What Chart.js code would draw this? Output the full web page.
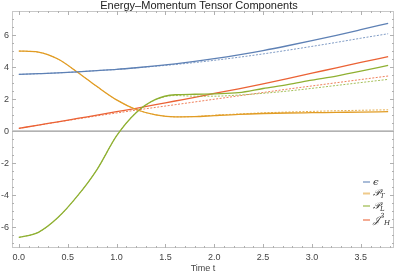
<!DOCTYPE html>
<html><head><meta charset="utf-8">
<script src="https://cdn.jsdelivr.net/npm/chart.js@4/dist/chart.umd.min.js"></script>
<style>html,body{margin:0;padding:0;background:#fff}canvas{display:block}</style>
</head><body>
<canvas id="c" width="395" height="274"></canvas>
<script>
const times = [0,0.2,0.4,0.6,0.8,1.0,1.2,1.4,1.6,1.8,2.0,2.25,2.5,2.75,3.0,3.25,3.5,3.78];
const epsSolid = [3.54,3.585,3.635,3.70,3.78,3.855,3.955,4.07,4.20,4.35,4.52,4.76,5.03,5.33,5.65,5.98,6.33,6.73];
const epsDashed = [3.54,3.585,3.635,3.70,3.78,3.85,3.95,4.05,4.16,4.28,4.42,4.61,4.82,5.05,5.29,5.54,5.80,6.08];
const pTSolid = [5.0,4.93,4.5,3.68,2.78,1.95,1.35,1.02,0.89,0.90,0.97,1.05,1.10,1.13,1.15,1.17,1.19,1.21];
const pTDashed = [5.0,4.93,4.5,3.68,2.78,1.95,1.35,1.02,0.89,0.91,0.99,1.07,1.14,1.19,1.23,1.27,1.30,1.33];
const pLSolid = [-6.64,-6.32,-5.4,-4.05,-2.4,-0.3,1.15,1.98,2.27,2.30,2.33,2.40,2.66,2.90,3.18,3.44,3.74,4.10];
const pLDashed = [-6.64,-6.32,-5.4,-4.05,-2.4,-0.3,1.15,1.96,2.22,2.18,2.18,2.25,2.36,2.50,2.67,2.85,3.03,3.23];
const jSolid = [0.17,0.38,0.58,0.79,1.0,1.21,1.42,1.65,1.88,2.11,2.35,2.64,2.95,3.28,3.62,3.95,4.29,4.65];
const jDashed = [0.17,0.37,0.57,0.76,0.95,1.13,1.31,1.48,1.65,1.82,1.99,2.20,2.41,2.62,2.82,3.02,3.22,3.44];
const xTicks = [0,0.5,1.0,1.5,2.0,2.5,3.0,3.5];
const yTicks = [-6,-4,-2,0,2,4,6];
const seriesNames = ['ϵ','𝒫','𝒫','𝒥'];

const COLORS = ['#5E81B5','#E19C24','#8FB032','#EB6235'];
const pts = arr => arr.map((v,i)=>({x:times[i],y:v}));
function ds(data,color,dashed){
  return {data:pts(data),borderColor:dashed?color+'CC':color,borderWidth:dashed?1:1.3,
    borderDash:dashed?[2,1.5]:[],pointRadius:0,fill:false,cubicInterpolationMode:'monotone'};
}
const datasets = [
  ds(epsDashed,COLORS[0],true), ds(pTDashed,COLORS[1],true), ds(pLDashed,COLORS[2],true), ds(jDashed,COLORS[3],true),
  ds(epsSolid,COLORS[0],false), ds(pTSolid,COLORS[1],false), ds(pLSolid,COLORS[2],false), ds(jSolid,COLORS[3],false)
];

const framePlugin = {
  id:'frame',
  beforeDatasetsDraw(chart){
    const {ctx,chartArea:a,scales:{y}} = chart;
    const y0 = y.getPixelForValue(0);
    ctx.save();
    ctx.strokeStyle='#999'; ctx.lineWidth=1.3;
    ctx.beginPath(); ctx.moveTo(a.left,y0); ctx.lineTo(a.right,y0); ctx.stroke();
    ctx.restore();
  },
  afterDraw(chart){
    const {ctx,chartArea:a,scales:{x,y}} = chart;
    ctx.save();
    ctx.strokeStyle='#c8c8c8'; ctx.lineWidth=1;
    ctx.strokeRect(a.left+0.5,a.top+0.5,a.right-a.left-1,a.bottom-a.top-1);
    ctx.strokeStyle='#b0b0b0';
    for(let i=0;i<=38;i++){
      const v=i/10; const px=Math.round(x.getPixelForValue(v))+0.5;
      const len = (i%5===0)?4:2;
      ctx.beginPath(); ctx.moveTo(px,a.bottom); ctx.lineTo(px,a.bottom-len);
      ctx.moveTo(px,a.top); ctx.lineTo(px,a.top+len); ctx.stroke();
    }
    for(let v=-7;v<=7.01;v+=0.5){
      const py=Math.round(y.getPixelForValue(v))+0.5;
      const len = (Math.abs(v%2)<1e-6)?4:2;
      ctx.beginPath(); ctx.moveTo(a.left,py); ctx.lineTo(a.left+len,py);
      ctx.moveTo(a.right,py); ctx.lineTo(a.right-len,py); ctx.stroke();
    }
    ctx.fillStyle='#222'; ctx.font='11px "Liberation Sans", Arial, sans-serif';
    ctx.textAlign='center'; ctx.textBaseline='middle';
    ctx.fillText('Energy–Momentum Tensor Components',199,6);
    const lx=363, ys=[182,193.5,206,220];
    const subs=['','T','L','H'];
    ctx.textAlign='left'; ctx.textBaseline='middle';
    for(let i=0;i<4;i++){
      ctx.strokeStyle=COLORS[i]+'88'; ctx.lineWidth=2; ctx.setLineDash([]);
      ctx.beginPath(); ctx.moveTo(lx,ys[i]); ctx.lineTo(lx+7,ys[i]); ctx.stroke();
      ctx.fillStyle='#333';
      ctx.font='italic 10px "DejaVu Serif", serif';
      ctx.fillText(seriesNames[i],lx+10,ys[i]);
      const w=ctx.measureText(seriesNames[i]).width;
      if(i===3){
        ctx.font='italic 7px "DejaVu Serif", serif';
        ctx.fillText('3',lx+10+w,ys[i]-4);
        ctx.fillText('H',lx+10+w+4,ys[i]+3);
      } else if(subs[i]){
        ctx.font='italic 7px "DejaVu Serif", serif';
        ctx.fillText(subs[i],lx+10+w,ys[i]+3);
      }
    }
    ctx.restore();
  }
};

new Chart(document.getElementById('c'),{
  type:'line',
  data:{datasets},
  options:{
    responsive:false, animation:false,
    layout:{padding:{top:11,right:1,left:0,bottom:0}},
    plugins:{legend:{display:false},title:{display:false},tooltip:{enabled:false}},
    scales:{
      x:{type:'linear',min:-0.07,max:3.84,
        grid:{display:false,drawTicks:false},border:{display:false},
        afterBuildTicks(s){s.ticks=xTicks.map(v=>({value:v}));},
        afterFit(s){s.height=26;},
        ticks:{padding:4,autoSkip:false,maxRotation:0,color:'#444',font:{size:9,family:'"Liberation Sans", Arial, sans-serif'},
          callback:v=>Number(v).toFixed(1)},
        title:{display:true,text:'Time t',color:'#444',padding:{top:0,bottom:0},font:{size:9,family:'"Liberation Sans", Arial, sans-serif'}}
      },
      y:{type:'linear',min:-7.3,max:7.5,
        grid:{display:false,drawTicks:false},border:{display:false},
        afterBuildTicks(s){s.ticks=yTicks.map(v=>({value:v}));},
        afterFit(s){s.width=12;},
        ticks:{padding:3,autoSkip:false,color:'#444',font:{size:9,family:'"Liberation Sans", Arial, sans-serif'},
          callback:v=>String(v)}
      }
    }
  },
  plugins:[framePlugin]
});
</script>
</body></html>
